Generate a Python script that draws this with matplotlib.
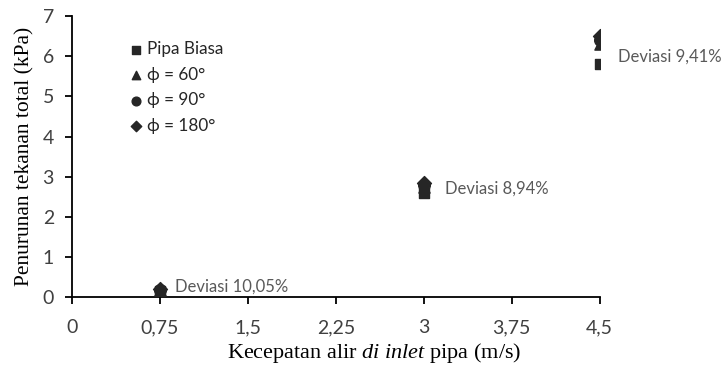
import matplotlib
matplotlib.use("Agg")
import matplotlib.pyplot as plt

# Data
velocity = [0.75, 3.0, 4.5]
pipa_biasa = [0.15, 2.60, 5.80]
phi_60 = [0.17, 2.75, 6.30]
phi_90 = [0.18, 2.80, 6.40]
phi_180 = [0.19, 2.85, 6.50]
series_labels = ["Pipa Biasa", "ϕ = 60°", "ϕ = 90°", "ϕ = 180°"]
deviasi_labels = ["Deviasi 10,05%", "Deviasi 8,94%", "Deviasi 9,41%"]
xticks = [0, 0.75, 1.5, 2.25, 3, 3.75, 4.5]
xtick_labels = ["0", "0,75", "1,5", "2,25", "3", "3,75", "4,5"]
yticks = [0, 1, 2, 3, 4, 5, 6, 7]

plt.rcParams['mathtext.fontset'] = 'custom'
plt.rcParams['mathtext.rm'] = 'Liberation Serif'
plt.rcParams['mathtext.it'] = 'Liberation Serif:italic'

sans = ['Lato', 'DejaVu Sans']
fig = plt.figure(figsize=(7.26, 3.67), dpi=100)
ax = fig.add_axes([0.0992, 0.1907, 0.7268, 0.7653])

col = '#262626'
ax.scatter(velocity, pipa_biasa, marker='s', s=50, color=col, label=series_labels[0], zorder=3)
ax.scatter(velocity, phi_60, marker='^', s=65, color=col, label=series_labels[1], zorder=3)
ax.scatter(velocity, phi_90, marker='o', s=70, color=col, label=series_labels[2], zorder=3)
ax.scatter(velocity, phi_180, marker='D', s=50, color=col, label=series_labels[3], zorder=3)

ax.set_xlim(0, 4.5)
ax.set_ylim(0, 7)
ax.set_xticks(xticks)
ax.set_xticklabels(xtick_labels)
ax.set_yticks(yticks)
for lab in ax.get_xticklabels() + ax.get_yticklabels():
    lab.set_family(sans)
    lab.set_fontsize(14)
    lab.set_color('#404040')

ax.spines['top'].set_visible(False)
ax.spines['right'].set_visible(False)
for s in ['left', 'bottom']:
    ax.spines[s].set_linewidth(1.3)
    ax.spines[s].set_color('black')
ax.tick_params(direction='out', length=5, width=1.3, color='black')
ax.tick_params(axis='x', pad=11)
ax.tick_params(axis='y', pad=8)

ax.set_xlabel(r"Kecepatan alir $\mathit{di\ inlet}$ pipa (m/s)",
              family='Liberation Serif', fontsize=16, labelpad=2)
ax.xaxis.set_label_coords(0.573, -0.155)
ax.set_ylabel("Penurunan tekanan total (kPa)", family='Liberation Serif',
              fontsize=15.5, labelpad=6)

leg = ax.legend(loc='upper left', bbox_to_anchor=(0.075, 0.965), frameon=False,
                prop={'family': sans, 'size': 12.3}, handletextpad=0.15,
                labelspacing=0.55, handlelength=1.0, markerscale=0.75)
for t in leg.get_texts():
    t.set_color('#262626')

offsets = [(11, 0), (15, 0), (13, 0)]
ytarget = [0.25, 2.7, 6.0]
for i, txt in enumerate(deviasi_labels):
    ax.annotate(txt, xy=(velocity[i], ytarget[i]), xytext=offsets[i],
                textcoords='offset points', family=sans, fontsize=12,
                color='#595959', va='center', annotation_clip=False)

fig.savefig("out.png", dpi=100)
